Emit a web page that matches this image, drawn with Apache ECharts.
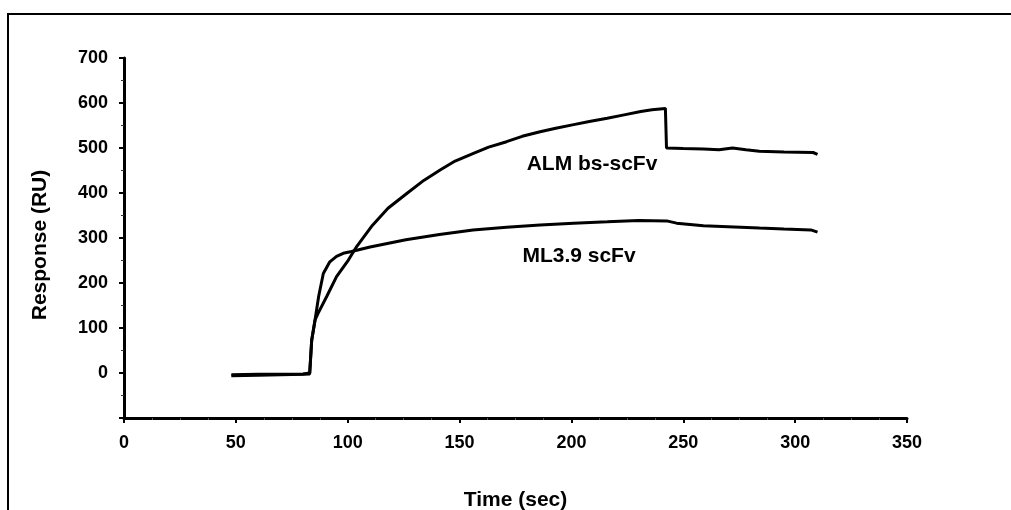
<!DOCTYPE html>
<html>
<head>
<meta charset="utf-8">
<script src="https://cdn.jsdelivr.net/npm/echarts@6/dist/echarts.min.js"></script>
<style>
  html, body { margin: 0; padding: 0; background: #fff; }
  #chart { width: 1011px; height: 510px; }
</style>
</head>
<body>
<div id="chart"></div>
<script>
// ALM bs-scFv sensorgram (time in sec, response in RU)
const almTime = [48, 60, 70, 80, 83, 83.9, 85.4, 86.8, 90.6, 95, 100.3, 104, 111, 118, 126.4, 134, 141.3, 148, 156.2, 163, 171, 178, 186, 193, 201, 208, 216, 223, 231, 236, 242, 242.5, 250, 259, 266, 272, 278, 284, 295, 308, 310];
const almResp = [-6, -5, -4, -3, -2, 73, 118, 133, 170, 214, 251, 281, 328, 366, 399, 428, 451, 471, 488, 502, 514, 526, 536, 544, 552, 559, 566, 573, 581, 585, 588, 500, 499, 498, 496, 500, 496, 493, 491, 490, 486];

// ML3.9 scFv sensorgram
const mlTime = [48, 60, 70, 80, 83, 83.9, 85.4, 87, 89.1, 92, 95, 98, 101.7, 110, 126, 141, 156, 171, 186, 201, 216, 230, 242.6, 247, 259, 270, 284, 295, 307, 310];
const mlResp = [-4, -3, -3, -2, 0, 73, 118, 170, 221, 247, 259, 266, 270, 280, 296, 308, 318, 324, 329, 333, 336, 339, 338, 333, 327, 325, 322, 320, 318, 313];

const seriesNames = ['ALM bs-scFv', 'ML3.9 scFv'];

const zip = (xs, ys) => xs.map((x, i) => [x, ys[i]]);

const chart = echarts.init(document.getElementById('chart'));
const font = 'Liberation Sans, Arial, sans-serif';

chart.setOption({
  animation: false,
  backgroundColor: '#fff',
  grid: { left: 124, right: 104, top: 58, bottom: 92, outerBoundsMode: 'none', containLabel: false },
  xAxis: {
    type: 'value',
    min: 0, max: 350, interval: 50,
    name: 'Time (sec)',
    nameLocation: 'middle',
    nameGap: 72,
    nameTextStyle: { fontFamily: font, fontWeight: 'bold', fontSize: 21, color: '#000' },
    axisLine: { onZero: false, lineStyle: { color: '#000', width: 3 } },
    axisTick: { length: 5, lineStyle: { color: '#000', width: 2 } },
    minorTick: { show: true, splitNumber: 4, length: 2, lineStyle: { color: '#555', width: 1 } },
    axisLabel: { margin: 16, fontFamily: font, fontWeight: 'bold', fontSize: 18, color: '#000' },
    splitLine: { show: false }
  },
  yAxis: {
    type: 'value',
    min: -100, max: 700, interval: 100,
    name: 'Response (RU)',
    nameLocation: 'middle',
    nameGap: 73,
    nameTextStyle: { fontFamily: font, fontWeight: 'bold', fontSize: 21, color: '#000', padding: [0, 14, 0, 0] },
    axisLine: { show: true, lineStyle: { color: '#000', width: 3 } },
    axisTick: { show: true, length: 5, lineStyle: { color: '#000', width: 2 } },
    minorTick: { show: true, splitNumber: 2, length: 3, lineStyle: { color: '#333', width: 1 } },
    axisLabel: {
      margin: 16, fontFamily: font, fontWeight: 'bold', fontSize: 18, color: '#000',
      formatter: v => (v < 0 ? '' : String(v))
    },
    splitLine: { show: false }
  },
  series: [
    {
      name: seriesNames[0],
      type: 'line',
      data: zip(almTime, almResp),
      showSymbol: false,
      lineStyle: { color: '#000', width: 3 },
      itemStyle: { color: '#000' }
    },
    {
      name: seriesNames[1],
      type: 'line',
      data: zip(mlTime, mlResp),
      showSymbol: false,
      lineStyle: { color: '#000', width: 3 },
      itemStyle: { color: '#000' }
    }
  ],
  graphic: [
    {
      type: 'rect',
      shape: { x: 8, y: 14, width: 1020, height: 520 },
      style: { fill: 'none', stroke: '#000', lineWidth: 2 },
      silent: true
    },
    {
      type: 'text',
      x: 592, y: 164,
      style: {
        text: seriesNames[0], fontFamily: font, fontWeight: 'bold', fontSize: 21, fill: '#000',
        align: 'center', verticalAlign: 'middle'
      }
    },
    {
      type: 'text',
      x: 579, y: 256,
      style: {
        text: seriesNames[1], fontFamily: font, fontWeight: 'bold', fontSize: 21, fill: '#000',
        align: 'center', verticalAlign: 'middle'
      }
    }
  ]
});
</script>
</body>
</html>
